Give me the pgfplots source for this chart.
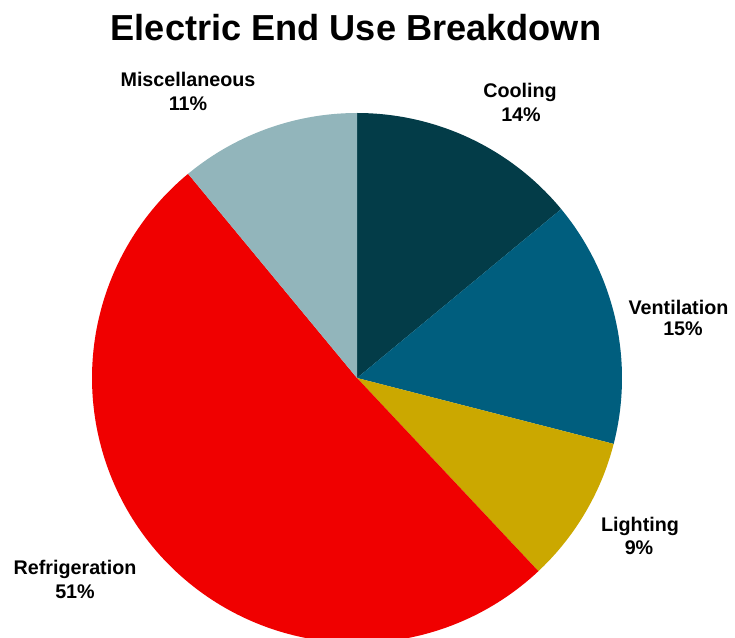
\documentclass[border=0pt]{standalone}
\usepackage{pgfplots}
\pgfplotsset{compat=1.18}
\usepackage{fontspec}
\setmainfont{Liberation Sans}
\definecolor{cool}{HTML}{033C48}
\definecolor{vent}{HTML}{005E7E}
\definecolor{light}{HTML}{CBA800}
\definecolor{refr}{HTML}{F00000}
\definecolor{misc}{HTML}{92B5BB}
\begin{document}
\begin{tikzpicture}
% shares in percent
\pgfmathsetmacro\vA{14}% Cooling
\pgfmathsetmacro\vB{15}% Ventilation
\pgfmathsetmacro\vC{9}% Lighting
\pgfmathsetmacro\vD{51}% Refrigeration
\pgfmathsetmacro\vE{11}% Miscellaneous
\pgfmathsetmacro\aA{90}
\pgfmathsetmacro\aB{\aA-3.6*\vA}
\pgfmathsetmacro\aC{\aB-3.6*\vB}
\pgfmathsetmacro\aD{\aC-3.6*\vC}
\pgfmathsetmacro\aE{\aD-3.6*\vD}
\pgfmathsetmacro\aF{\aE-3.6*\vE}
\begin{axis}[width=735bp, height=638bp, scale only axis,
  xmin=0, xmax=735, ymin=0, ymax=638, hide axis, clip=true]
\path[draw=none] (axis cs:0,0) rectangle (axis cs:735,638);
\addplot[fill=cool, draw=none, domain=\aB:\aA, samples=60] ({357+265*cos(x)},{260+265*sin(x)}) -- (axis cs:357,260) -- cycle;
\addplot[fill=vent, draw=none, domain=\aC:\aB, samples=60] ({357+265*cos(x)},{260+265*sin(x)}) -- (axis cs:357,260) -- cycle;
\addplot[fill=light, draw=none, domain=\aD:\aC, samples=40] ({357+265*cos(x)},{260+265*sin(x)}) -- (axis cs:357,260) -- cycle;
\addplot[fill=refr, draw=none, domain=\aE:\aD, samples=150] ({357+265*cos(x)},{260+265*sin(x)}) -- (axis cs:357,260) -- cycle;
\addplot[fill=misc, draw=none, domain=\aF:\aE, samples=40] ({357+265*cos(x)},{260+265*sin(x)}) -- (axis cs:357,260) -- cycle;
\node[anchor=base, inner sep=0pt, font=\fontsize{36.3}{40}\selectfont\bfseries] at (axis cs:356,597) {Electric End Use Breakdown};
\tikzset{lbl/.style={anchor=base, inner sep=0pt, font=\fontsize{19.8}{22}\selectfont\bfseries}}
\node[lbl] at (axis cs:188,551.5) {Miscellaneous};
\node[lbl] at (axis cs:188,527) {11\%};
\node[lbl] at (axis cs:520,540) {Cooling};
\node[lbl] at (axis cs:521,516) {14\%};
\node[lbl] at (axis cs:678.5,323) {Ventilation};
\node[lbl] at (axis cs:683,302) {15\%};
\node[lbl] at (axis cs:640,106) {Lighting};
\node[lbl] at (axis cs:639,83) {9\%};
\node[lbl] at (axis cs:75,63) {Refrigeration};
\node[lbl] at (axis cs:75,40) {51\%};
\end{axis}
\end{tikzpicture}
\end{document}
